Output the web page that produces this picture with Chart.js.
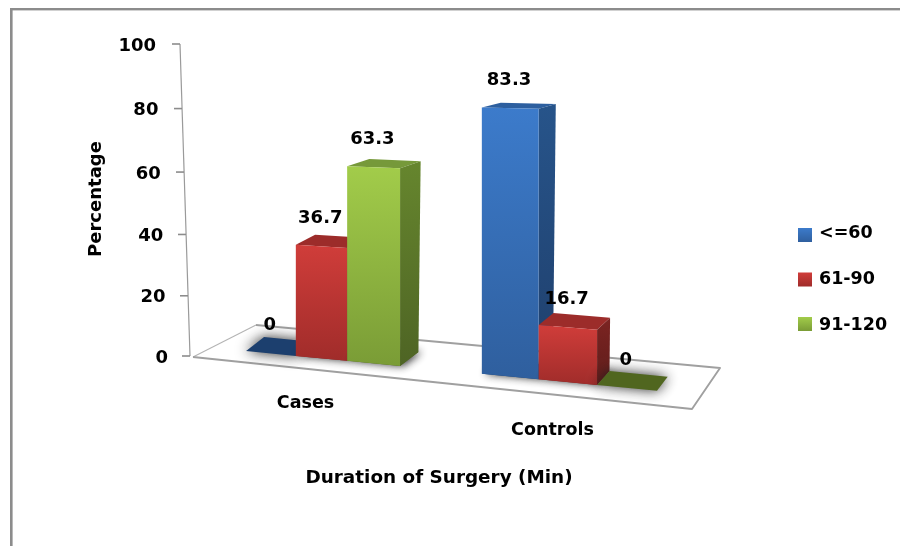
<!DOCTYPE html>
<html>
<head>
<meta charset="utf-8">
<script src="https://cdn.jsdelivr.net/npm/chart.js@4"></script>
<style>html,body{margin:0;padding:0;background:#fff}canvas{display:block}</style>
</head>
<body>
<canvas id="c" width="900" height="546"></canvas>
<script>
const categories = ['Cases', 'Controls'];
const seriesNames = ['<=60', '61-90', '91-120'];
const under60 = [0, 83.3];
const from61to90 = [36.7, 16.7];
const from91to120 = [63.3, 0];
const yTicks = [0, 20, 40, 60, 80, 100];
const xTitle = 'Duration of Surgery (Min)';
const yTitle = 'Percentage';

const FONT = '"DejaVu Sans"';
const palette = [
  {base:'#3a78c6', front:['#3c7bcb','#2f5f9e'], side:['#27548a','#1f3f6c'], top:'#2d5f9f', plate:'#1c3f6e'},
  {base:'#cf3c3a', front:['#d03d3a','#a02c2a'], side:['#7c2422','#5e1c1a'], top:'#9c2c2a', plate:'#7c2422'},
  {base:'#a2cc4a', front:['#a2cc4a','#7a9c36'], side:['#66862e','#4e6424'], top:'#76993a', plate:'#50661f'}
];

// Perspective of the sketched 3D view: scale value -> picture
const fx = x => x + 0.00026 * (x - 450) * (x - 450) - 4.5;
const floorY = X => 356 + (X - 297) * 0.0965;
const unit = X => 3.03 + (X - 296) * 0.0009;
const project = (x, v) => { const X = fx(x); return [X, floorY(X) - v * unit(X)]; };
const depth = (X, v) => [(X < 340 ? 18 : 20 - (X - 346) * 0.03) + v * 0.035, -14 + 0.11 * v];

function poly(ctx, pts, fill) {
  ctx.beginPath();
  pts.forEach((p, i) => i ? ctx.lineTo(p[0], p[1]) : ctx.moveTo(p[0], p[1]));
  ctx.closePath();
  ctx.fillStyle = fill;
  ctx.fill();
}
function grad(ctx, y0, y1, c) {
  const g = ctx.createLinearGradient(0, y0, 0, y1);
  g.addColorStop(0, c[0]); g.addColorStop(1, c[1]);
  return g;
}
function text(ctx, s, x, y, size, align) {
  ctx.save();
  ctx.filter = 'blur(0.4px)';
  ctx.font = `bold ${size}px ${FONT}`;
  ctx.fillStyle = '#000';
  ctx.textAlign = align || 'center';
  ctx.textBaseline = 'middle';
  ctx.fillText(s, x, y);
  ctx.restore();
}

const view3d = {
  id: 'view3d',
  beforeDatasetsDraw(chart) {
    const ctx = chart.ctx, a = chart.chartArea, sy = chart.scales.y, sx = chart.scales.x;
    ctx.save();
    // frame
    ctx.fillStyle = '#8c8c8c';
    ctx.fillRect(10, 8, 890, 2.4);
    ctx.fillRect(10, 8, 2.6, 538);

    // floor
    const L = a.left, R = a.right, B = a.bottom;
    ctx.lineJoin = 'round';
    ctx.strokeStyle = '#b4b4b4';
    ctx.lineWidth = 1.1;
    ctx.beginPath();
    ctx.moveTo(L - 5, B + 1); ctx.lineTo(L + 58, B - 31);
    ctx.stroke();
    ctx.strokeStyle = '#a0a0a0';
    ctx.lineWidth = 1.9;
    ctx.beginPath();
    ctx.moveTo(L + 58, B - 31); ctx.lineTo(R + 28, B + 12); ctx.lineTo(R, B + 53); ctx.lineTo(L - 5, B + 1);
    ctx.stroke();

    // value axis
    const axisX = v => a.left - 18 + (100 - v) * 0.1;
    const axisY = v => sy.getPixelForValue(v) + 0.00136 * v * (100 - v);
    ctx.strokeStyle = '#9a9a9a';
    ctx.lineWidth = 1.2;
    ctx.beginPath();
    ctx.moveTo(axisX(100), axisY(100)); ctx.lineTo(axisX(0), axisY(0));
    ctx.stroke();
    ctx.strokeStyle = '#8c8c8c';
    ctx.lineWidth = 1.6;
    sy.ticks.forEach(t => {
      const x = axisX(t.value), y = axisY(t.value);
      ctx.beginPath(); ctx.moveTo(x - 8, y); ctx.lineTo(x, y); ctx.stroke();
      text(ctx, t.label, x - 24 + (100 - t.value) * 0.02, y + 2, 18, 'right');
    });

    // bars, back to front, left to right
    const metas = chart.getSortedVisibleDatasetMetas();
    categories.forEach((c, ci) => {
      metas.forEach(m => {
        const el = m.data[ci], col = palette[m.index];
        const v = chart.data.datasets[m.index].data[ci];
        const xl = el.x - el.width / 2, xr = el.x + el.width / 2;
        const A = project(xl, v), Bp = project(xr, v), C = project(xr, 0), D = project(xl, 0);
        const off = (p, val) => { const d = depth(p[0], val); return [p[0] + d[0], p[1] + d[1]]; };
        const A2 = off(A, v), B2 = off(Bp, v), C2 = off(C, 0), D2 = off(D, 0);
        // shadow on the floor
        ctx.save();
        ctx.shadowColor = 'rgba(30,30,30,0.95)';
        ctx.shadowBlur = v > 0 ? 8 : 13;
        ctx.shadowOffsetX = v > 0 ? 3 : 0;
        poly(ctx, [D, D2, C2, C], col.plate);
        ctx.restore();
        if (v > 0) {
          poly(ctx, [A, A2, B2, Bp], col.top);
          poly(ctx, [Bp, B2, C2, C], grad(ctx, B2[1], C[1], col.side));
          poly(ctx, [A, Bp, C, D], grad(ctx, A[1], C[1], col.front));
        }
      });
    });

    // value labels
    metas.forEach(m => {
      m.data.forEach((el, i) => {
        const v = chart.data.datasets[m.index].data[i];
        const p = project(el.x, v);
        text(ctx, String(v), p[0] - 1, p[1] - 28, 18);
      });
    });

    // category labels
    sx.ticks.forEach((t, i) => {
      const x = sx.getPixelForTick(i) - 16;
      text(ctx, sx.getLabelForValue(t.value), x, floorY(x) + 46.3 + (x - 304) * 0.0125, 17.5);
    });

    // axis titles
    text(ctx, xTitle, (L + R) / 2 - 6, 478, 18.4);
    ctx.save();
    ctx.translate(96, 199);
    ctx.rotate(-Math.PI / 2);
    text(ctx, yTitle, 0, 0, 18);
    ctx.restore();

    // legend
    metas.forEach((m, i) => {
      const col = palette[m.index], top = 228 + i * 44.5;
      ctx.fillStyle = grad(ctx, top, top + 14, col.front);
      ctx.fillRect(798, top, 14, 14);
      text(ctx, chart.data.datasets[m.index].label, 819, 233.5 + i * 46, 17.5, 'left');
    });
    ctx.restore();
    return false;
  }
};

new Chart(document.getElementById('c'), {
  type: 'bar',
  data: {
    labels: categories,
    datasets: [
      {label: seriesNames[0], data: under60, backgroundColor: palette[0].base},
      {label: seriesNames[1], data: from61to90, backgroundColor: palette[1].base},
      {label: seriesNames[2], data: from91to120, backgroundColor: palette[2].base}
    ]
  },
  options: {
    responsive: false,
    animation: false,
    layout: {padding: {left: 198, right: 208, top: 44, bottom: 190}},
    datasets: {bar: {categoryPercentage: 0.668, barPercentage: 1}},
    plugins: {legend: {display: false}, tooltip: {enabled: false}, title: {display: false}},
    scales: {
      x: {display: false},
      y: {display: false, min: 0, max: 100, afterBuildTicks: s => { s.ticks = yTicks.map(v => ({value: v, label: String(v)})); }}
    }
  },
  plugins: [view3d]
});
</script>
</body>
</html>
